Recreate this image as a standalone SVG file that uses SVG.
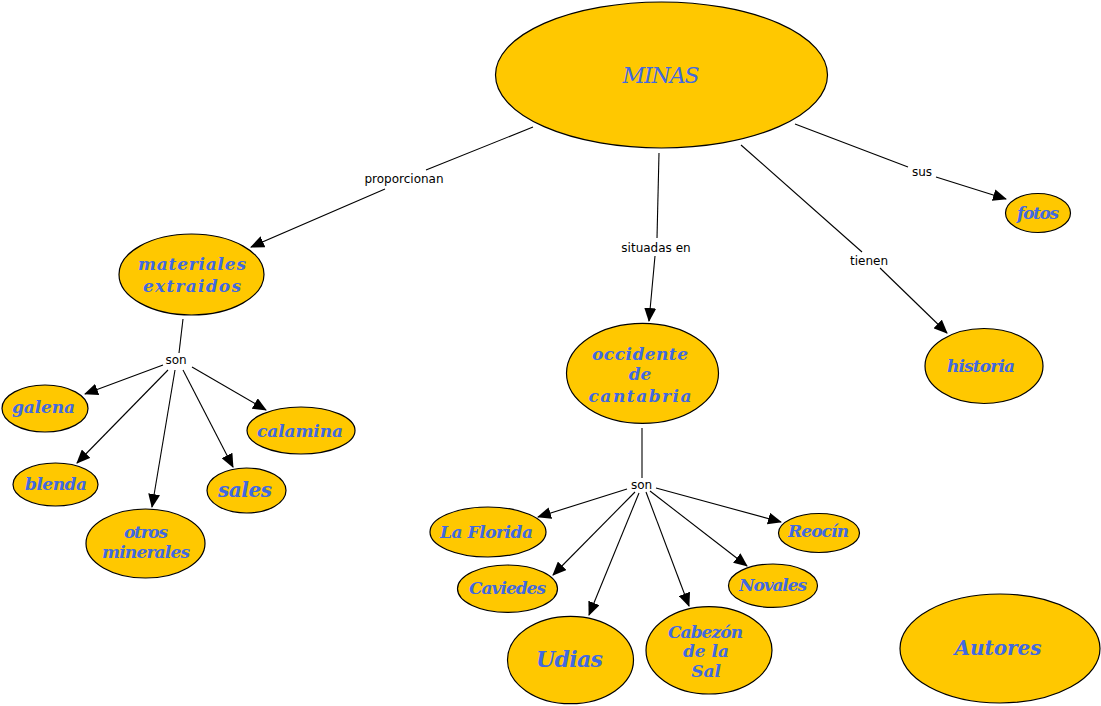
<svg xmlns="http://www.w3.org/2000/svg" width="1101" height="706" viewBox="0 0 1101 706">
<style>
.n ellipse{fill:#FFC800;stroke:#000;stroke-width:1.2}
.n text{font-family:"DejaVu Serif","Liberation Serif",serif;font-style:italic;font-weight:bold;font-size:17px;fill:#4169E1;text-anchor:middle}
.n text.r{font-weight:normal}
.n text.big{font-size:22px}
.n text.mid{font-size:20px}
.c line{stroke:#000;stroke-width:1.1;fill:none}
.c line.a{marker-end:url(#ah)}
.l{font-family:"DejaVu Sans",Verdana,sans-serif;font-size:12px;fill:#000;text-anchor:middle}
</style>
<defs>
<marker id="ah" markerUnits="userSpaceOnUse" markerWidth="14" markerHeight="12" viewBox="0 0 14 12" refX="13" refY="6" orient="auto">
<path d="M0,0 L14,6 L0,12 z" fill="#000"/>
</marker>
</defs>
<rect width="1101" height="706" fill="#fff"/>
<g id="connectors" class="c">
<line x1="533" y1="127" x2="426" y2="170"/>
<line class="a" x1="385" y1="189" x2="251" y2="247"/>
<line x1="659" y1="153" x2="657" y2="238"/>
<line class="a" x1="655" y1="256" x2="649" y2="321"/>
<line x1="741" y1="145" x2="862" y2="252"/>
<line class="a" x1="880" y1="268" x2="947" y2="333"/>
<line x1="795" y1="124" x2="908" y2="167"/>
<line class="a" x1="936" y1="177" x2="1006" y2="199"/>
<line x1="183" y1="319" x2="179" y2="353"/>
<line class="a" x1="163" y1="365" x2="85" y2="394"/>
<line class="a" x1="168" y1="370" x2="77" y2="463"/>
<line class="a" x1="175" y1="370" x2="152" y2="507"/>
<line class="a" x1="183" y1="370" x2="233" y2="467"/>
<line class="a" x1="192" y1="367" x2="266" y2="410"/>
<line x1="642" y1="428" x2="642" y2="478"/>
<line class="a" x1="627" y1="489" x2="538" y2="517"/>
<line class="a" x1="635" y1="492" x2="553" y2="575"/>
<line class="a" x1="639" y1="493" x2="589" y2="615"/>
<line class="a" x1="646" y1="492" x2="689" y2="606"/>
<line class="a" x1="650" y1="491" x2="747" y2="566"/>
<line class="a" x1="656" y1="488" x2="781" y2="522"/>
<text class="l" x="404" y="182.5">proporcionan</text>
<text class="l" x="656" y="251.5">situadas en</text>
<text class="l" x="869" y="265">tienen</text>
<text class="l" x="922" y="175.5">sus</text>
<text class="l" x="176" y="363.5">son</text>
<text class="l" x="641.5" y="488.5">son</text>
</g>
<g id="minas" class="n"><ellipse cx="661.5" cy="75" rx="166" ry="73"/><text class="r big" x="661" y="83" textLength="77" lengthAdjust="spacing">MINAS</text></g>
<g id="materiales" class="n"><ellipse cx="191.5" cy="274.5" rx="72.5" ry="40.5"/><text x="192" y="270" textLength="108" lengthAdjust="spacing">materiales</text><text x="192" y="292" textLength="98" lengthAdjust="spacing">extraidos</text></g>
<g id="galena" class="n"><ellipse cx="45" cy="408.5" rx="43" ry="23.5"/><text x="43.5" y="413" textLength="63" lengthAdjust="spacing">galena</text></g>
<g id="calamina" class="n"><ellipse cx="301" cy="430.5" rx="54" ry="23.5"/><text x="300" y="437" textLength="86" lengthAdjust="spacing">calamina</text></g>
<g id="blenda" class="n"><ellipse cx="55.5" cy="484.5" rx="42.5" ry="21.5"/><text x="56" y="490" textLength="62" lengthAdjust="spacing">blenda</text></g>
<g id="sales" class="n"><ellipse cx="246.5" cy="490.5" rx="39.5" ry="22.5"/><text class="mid" x="245" y="497" textLength="54" lengthAdjust="spacing">sales</text></g>
<g id="otros" class="n"><ellipse cx="145.5" cy="543.5" rx="59.5" ry="34.5"/><text x="146" y="538" textLength="44" lengthAdjust="spacing">otros</text><text x="146" y="558" textLength="88" lengthAdjust="spacing">minerales</text></g>
<g id="occidente" class="n"><ellipse cx="642.5" cy="373.3" rx="76" ry="50"/><text x="640" y="360" textLength="96" lengthAdjust="spacing">occidente</text><text x="640" y="380">de</text><text x="640" y="402" textLength="103" lengthAdjust="spacing">cantabria</text></g>
<g id="historia" class="n"><ellipse cx="984" cy="366" rx="59" ry="37.5"/><text x="981" y="371.5" textLength="68" lengthAdjust="spacing">historia</text></g>
<g id="fotos" class="n"><ellipse cx="1038" cy="213" rx="32.5" ry="19.5"/><text x="1038" y="218.5" textLength="42" lengthAdjust="spacing">fotos</text></g>
<g id="laflorida" class="n"><ellipse cx="488" cy="532" rx="58" ry="25"/><text x="486.5" y="538" textLength="93" lengthAdjust="spacing">La Florida</text></g>
<g id="caviedes" class="n"><ellipse cx="507.5" cy="588.7" rx="50" ry="23.7"/><text x="507.5" y="594" textLength="77" lengthAdjust="spacing">Caviedes</text></g>
<g id="udias" class="n"><ellipse cx="570.5" cy="660" rx="63" ry="43.7"/><text class="big" x="569.5" y="667" textLength="67" lengthAdjust="spacing">Udias</text></g>
<g id="cabezon" class="n"><ellipse cx="709" cy="650.3" rx="63" ry="43.7"/><text x="705.5" y="638" textLength="75" lengthAdjust="spacing">Cabezón</text><text x="706" y="657">de la</text><text x="706" y="677">Sal</text></g>
<g id="novales" class="n"><ellipse cx="773" cy="585.7" rx="44.5" ry="21.7"/><text x="773" y="591" textLength="68" lengthAdjust="spacing">Novales</text></g>
<g id="reocin" class="n"><ellipse cx="819" cy="533" rx="40.5" ry="19.5"/><text x="818.5" y="537" textLength="61" lengthAdjust="spacing">Reocín</text></g>
<g id="autores" class="n"><ellipse cx="1000" cy="648.5" rx="100" ry="54.5"/><text class="mid" x="998" y="655" textLength="87" lengthAdjust="spacing">Autores</text></g>
</svg>
